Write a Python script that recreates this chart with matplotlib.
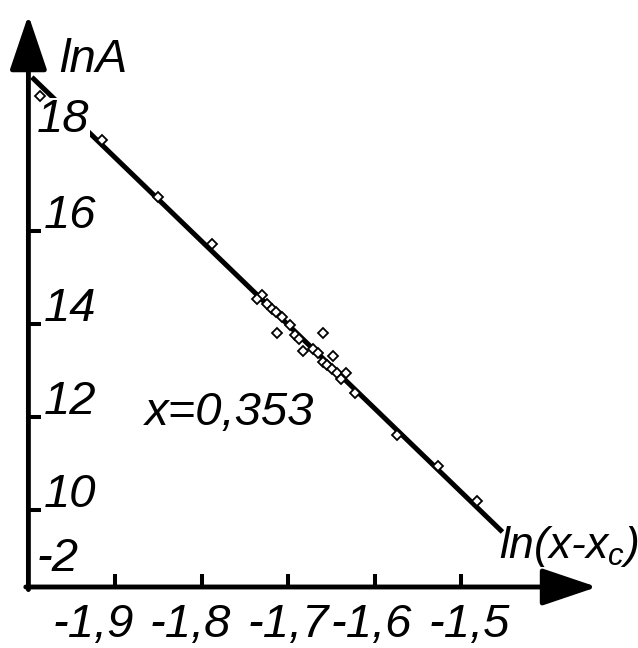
import matplotlib.pyplot as plt
import numpy as np

plt.rcParams['font.family'] = ['Liberation Sans', 'DejaVu Sans']
plt.rcParams['mathtext.fontset'] = 'custom'
plt.rcParams['mathtext.rm'] = 'Liberation Sans:italic'
plt.rcParams['mathtext.it'] = 'Liberation Sans:italic'

# measured points: ln(x - x_c) vs lnA
ln_dx = [-1.9867, -1.9150, -1.8503, -1.7879, -1.7301, -1.7358, -1.7243, -1.7185,
         -1.7139, -1.7069, -1.6977, -1.7127, -1.6595, -1.6919, -1.6873, -1.6827,
         -1.6711, -1.6653, -1.6480, -1.6595, -1.6549, -1.6491, -1.6434, -1.6329,
         -1.6387, -1.6225, -1.5740, -1.5266, -1.4815]
ln_a = [18.903, 17.957, 16.731, 15.720, 14.624, 14.538, 14.430, 14.323,
        14.258, 14.151, 13.978, 13.806, 13.806, 13.763, 13.677, 13.419,
        13.462, 13.376, 13.312, 13.183, 13.118, 13.032, 12.946, 12.946,
        12.817, 12.516, 11.613, 10.946, 10.194]

# linear fit lnA = slope * ln(x-xc) + icpt
fit_slope = -18.0
fit_icpt = -16.62
fit_x = np.array([-1.996, -1.4526])

x_ticks = [-1.9, -1.8, -1.7, -1.6, -1.5, -1.4]
x_labels = ['-1,9', '-1,8', '-1,7', '-1,6', '-1,5']
y_ticks = [10, 12, 14, 16]
y_labels = ['18', '16', '14', '12', '10', '-2']
y_label_vals = [18.13, 16.07, 14.07, 12.07, 10.07, 8.69]

# where the axes cross
x0 = -2.0
y0 = 8.344

fig = plt.figure(figsize=(6.38, 6.48), dpi=100)
ax = fig.add_axes([0, 0, 1, 1])
ax.set_xlim(-2.0328, -1.2961)
ax.set_ylim(7.032, 20.968)

for s in ['top', 'right']:
    ax.spines[s].set_visible(False)
ax.spines['bottom'].set_position(('data', y0))
ax.spines['left'].set_position(('data', x0))
ax.spines['bottom'].set_color('none')
ax.spines['left'].set_color('none')

ax.set_xticks(x_ticks)
ax.set_yticks(y_ticks)
ax.tick_params(axis='both', direction='in', length=9.5, width=2.9, color='black',
               labelbottom=False, labelleft=False)

# axis lines with arrow heads
arrow = dict(arrowstyle='-|>,head_length=3.4,head_width=1.15', mutation_scale=10,
             lw=3.5, color='black', shrinkA=0, shrinkB=0)
ax.annotate('', xy=(x0, 20.645), xytext=(x0, y0 - 0.055), arrowprops=arrow)
ax.annotate('', xy=(-1.3434, y0), xytext=(x0 - 0.003, y0), arrowprops=arrow)

ax.plot(fit_x, fit_slope * fit_x + fit_icpt, color='black', lw=3.6,
        solid_capstyle='butt', zorder=2)
ax.plot(ln_dx, ln_a, 'D', ms=5, mfc='white', mec='black', mew=1.3, zorder=4)

fs = 34
lbl_x = [-1.925, -1.813, -1.700, -1.604, -1.491]
for xv, t in zip(lbl_x, x_labels):
    ax.text(xv, 7.27, t, ha='center', va='baseline', fontsize=fs, style='italic')

y_lbl_x = [-1.990, -1.982, -1.982, -1.982, -1.982, -1.991]
for xv, yv, t in zip(y_lbl_x, y_label_vals, y_labels):
    bb = dict(facecolor='white', edgecolor='none', pad=0) if t == '18' else None
    ax.text(xv, yv, t, ha='left', va='baseline', fontsize=fs, style='italic',
            bbox=bb, zorder=3)

ax.text(-1.9645, 19.42, 'lnA', ha='left', va='baseline', fontsize=fs, style='italic')
ax.text(-1.866, 11.83, 'x=0,353', ha='left', va='baseline', fontsize=fs, style='italic')
ax.text(-1.4565, 8.97, r'$ln(x$-$x_c)$', ha='left', va='baseline', fontsize=32,
        style='italic')

fig.savefig('out.png', dpi=100)
